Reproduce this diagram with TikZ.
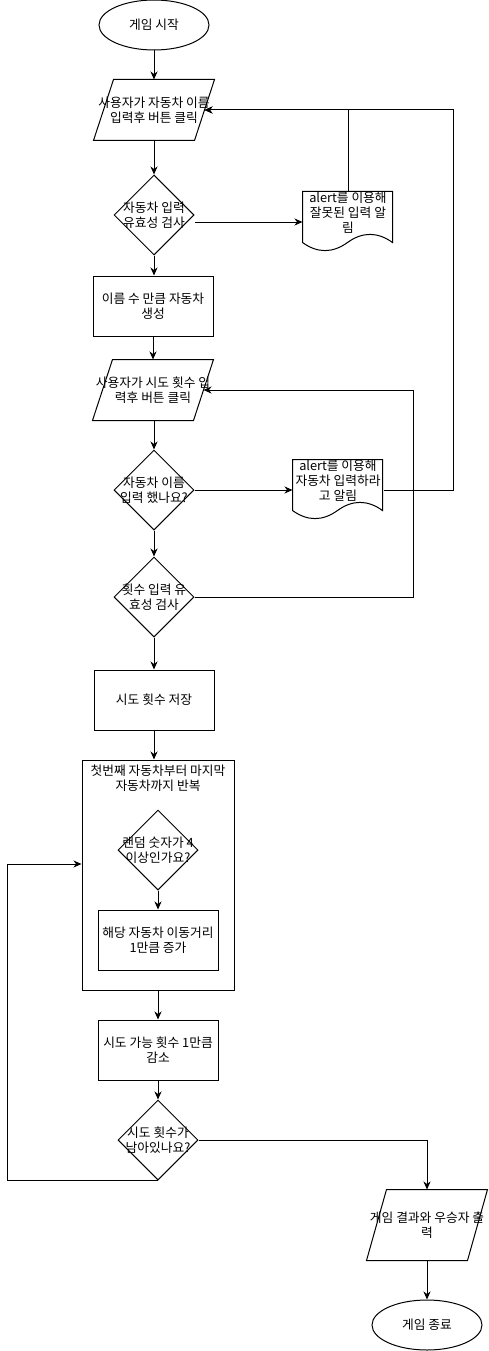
\documentclass[tikz,border=0pt]{standalone}
\usepackage{fontspec}
\setmainfont{Noto Sans CJK KR}
\usetikzlibrary{shapes.geometric,arrows.meta,calc}
\begin{document}
\begin{tikzpicture}[x=1pt,y=-1pt,line width=1pt,
  txt/.style={font=\fontsize{12.75}{15}\selectfont, align=center},
  arr/.style={-{Stealth[length=8pt,width=7pt,inset=2.5pt]}},
  term/.style={ellipse, draw, minimum width=110pt, minimum height=50pt, inner sep=0pt, txt},
  proc/.style={rectangle, draw, minimum width=120pt, minimum height=60pt, inner sep=0pt, txt},
  io/.style={rectangle, minimum width=120pt, minimum height=60pt, inner sep=0pt, txt},
  dec/.style={diamond, draw, minimum width=80pt, minimum height=80pt, inner sep=0pt},
  docbox/.style={rectangle, minimum width=90pt, minimum height=60pt, inner sep=0pt},
]
\useasboundingbox (0,0) rectangle (488,1351);

% nodes
\node[term] (start) at (154,25) {게임 시작};
\node[io] (p1) at (154,110) {사용자가 자동차 이름\\입력후 버튼 클릭};
\node[dec, label={[txt]center:자동차 입력\\유효성 검사}] (d1) at (154,215) {};
\node[docbox, label={[txt,yshift=9pt]center:alert를 이용해\\잘못된 입력 알\\림}] (doc1) at (348,222) {};
\node[proc] (r1) at (153,306) {이름 수 만큼 자동차\\생성};
\node[io] (p2) at (153,390) {사용자가 시도 횟수 입\\력후 버튼 클릭};
\node[dec, label={[txt]center:자동차 이름\\입력 했나요?}] (d2) at (154,490) {};
\node[docbox, label={[txt,yshift=9pt]center:alert를 이용해\\자동차 입력하라\\고 알림}] (doc2) at (338,490) {};
\node[dec, label={[txt]center:횟수 입력 유\\효성 검사}] (d3) at (154,597) {};
\node[proc] (r2) at (154,700) {시도 횟수 저장};
\node[rectangle, draw, minimum width=152pt, minimum height=230pt, inner sep=0pt,
      label={[txt,anchor=north,yshift=-2pt]north:첫번째 자동차부터 마지막\\자동차까지 반복}] (cont) at (158,875) {};
\node[dec, label={[txt]center:랜덤 숫자가 4\\이상인가요?}] (id) at (158,850) {};
\node[proc] (ir) at (158,940) {해당 자동차 이동거리\\1만큼 증가};
\node[proc] (r3) at (158,1050) {시도 가능 횟수 1만큼\\감소};
\node[dec, label={[txt]center:시도 횟수가\\남아있나요?}] (d4) at (158,1140) {};
\node[io, minimum height=70pt] (p3) at (427,1225) {게임 결과와 우승자 출\\력};
\node[term] (end) at (427,1325) {게임 종료};

% parallelograms
\foreach \p in {p1,p2,p3}{
  \draw ($(\p.north west)+(20,0)$) -- (\p.north east) -- ($(\p.south east)+(-20,0)$) -- (\p.south west) -- cycle;
}
% documents
\foreach \d in {doc1,doc2}{
  \begin{scope}[shift={(\d.north west)}]
    \draw (0,0) -- (90,0) -- (90,51) .. controls (75,40.2) and (60,40.2) .. (45,51)
          .. controls (30,61.8) and (15,61.8) .. (0,51) -- cycle;
  \end{scope}
}

% helper coordinates
\coordinate (p1in) at ($(p1.east)+(-10,0)$);
\coordinate (p2in) at ($(p2.east)+(-10,0)$);
\coordinate (rr1) at (453,490);
\coordinate (rr2) at (413,597);
\coordinate (lp) at (7,864);

% connectors
\draw[arr] (start.south) -- (p1.north);
\draw[arr] (p1.south) -- (d1.north);
\draw[arr] (d1.east |- doc1.west) -- (doc1.west);
\draw[arr] (doc1.north) |- (p1in);
\draw[arr] (doc2.east) -- (rr1) |- (p1in);
\draw[arr] (d1.south) -- (d1.south |- r1.north);
\draw[arr] (r1.south) -- (p2.north);
\draw[arr] (p2.south) -- (p2.south -| d2.north) -- (d2.north);
\draw[arr] (d2.east) -- (doc2.west);
\draw[arr] (d2.south) -- (d3.north);
\draw[arr] (d3.east) -- (rr2) |- (p2in);
\draw[arr] (d3.south) -- (r2.north);
\draw[arr] (r2.south) -- (r2.south |- cont.north);
\draw[arr] (id.south) -- (ir.north);
\draw[arr] (cont.south) -- (r3.north);
\draw[arr] (r3.south) -- (d4.north);
\draw[arr] (d4.east) -| (p3.north);
\draw[arr] (p3.south) -- (end.north);
\draw[arr] (d4.south) -| (lp) -- (lp -| cont.west);
\end{tikzpicture}
\end{document}
